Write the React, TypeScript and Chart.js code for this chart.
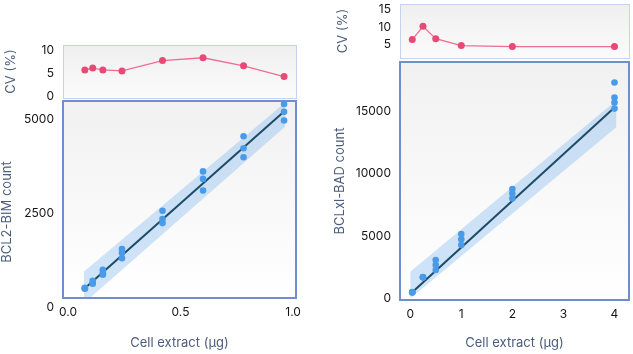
import React, { useEffect, useRef } from 'react';
import { Chart, registerables } from 'chart.js';
Chart.register(...registerables);

// ---------- data: left (BCL2-BIM) ----------
const leftX = [0.075, 0.11, 0.155, 0.24, 0.42, 0.6, 0.78, 0.96];
const leftCV = [5.74, 6.15, 5.74, 5.54, 7.77, 8.38, 6.63, 4.32];
const leftCounts = [
  [500, 490, 510],
  [700, 640, 620],
  [990, 900, 860],
  [1550, 1440, 1300],
  [2570, 2350, 2240],
  [3620, 3420, 3110],
  [4560, 4240, 4000],
  [5420, 5210, 4980],
];
const leftFitX = [0.075, 0.96];
const leftFitY = [500, 5222];
const leftBandX = [0.071, 0.964];
const leftBandUpper = [944, 5454];
const leftBandLower = [100, 4813];
const leftXTicks = [0, 0.5, 1];
const leftYTicks = [0, 2500, 5000];
const leftCVTicks = [0, 5, 10];

// ---------- data: right (BCLxl-BAD) ----------
const rightX = [0.04, 0.25, 0.5, 1, 2, 4];
const rightCV = [6.36, 10.2, 6.6, 4.6, 4.33, 4.33];
const rightCounts = [
  [480, 470, 490],
  [1680, 1700, 1660],
  [3070, 2670, 2270],
  [5150, 4730, 4270],
  [8760, 8410, 8010],
  [17310, 16110, 15710, 15220],
];
const rightFitX = [0.04, 4];
const rightFitY = [480, 15302];
const rightBandX = [0, 4.04];
const rightBandUpper = [2130, 15890];
const rightBandLower = [-11, 13750];
const rightXTicks = [0, 1, 2, 3, 4];
const rightYTicks = [0, 5000, 10000, 15000];
const rightCVTicks = [5, 10, 15];

const xTitle = 'Cell extract (µg)';
const cvTitle = 'CV (%)';
const leftYTitle = 'BCL2-BIM count';
const rightYTitle = 'BCLxl-BAD count';

const FONT = 'Inter, "Open Sans", sans-serif';
const TITLE_COLOR = '#4d5d7c';
const TICK_COLOR = '#151515';

const panelPlugin = {
  id: 'panel',
  beforeDraw(chart: any, _a: any, opts: any) {
    const { ctx, chartArea: a } = chart;
    const g = ctx.createLinearGradient(0, a.top, 0, a.bottom);
    g.addColorStop(0, opts.top);
    g.addColorStop(1, opts.bottom);
    ctx.save();
    ctx.fillStyle = g;
    ctx.fillRect(a.left, a.top, a.right - a.left, a.bottom - a.top);
    ctx.restore();
  },
  afterDraw(chart: any, _a: any, opts: any) {
    const { ctx, chartArea: a } = chart;
    ctx.save();
    ctx.strokeStyle = opts.border;
    ctx.lineWidth = opts.width;
    const o = opts.width % 2 === 1 ? 0.5 : 0;
    ctx.strokeRect(a.left + o, a.top + o, a.right - a.left, a.bottom - a.top);
    if (opts.yTitle) {
      ctx.translate(opts.yTitle.x, opts.yTitle.y);
      ctx.rotate(-Math.PI / 2);
      ctx.fillStyle = TITLE_COLOR;
      ctx.font = `13px ${FONT}`;
      ctx.textAlign = 'center';
      ctx.textBaseline = 'middle';
      ctx.fillText(opts.yTitle.text, 0, 0);
    }
    ctx.restore();
  },
};

type AxisCfg = {
  xMin: number; xMax: number; xTicks: number[]; xFmt: (v: number) => string; showX: boolean; xHeight: number;
  yMin: number; yMax: number; yTicks: number[]; yWidth: number; yTitle?: string; yTitlePad: number;
  padding: any; panel: any;
};

function makeOptions(c: AxisCfg): any {
  return {
    responsive: false,
    animation: false,
    layout: { padding: c.padding },
    plugins: { legend: { display: false }, tooltip: { enabled: false }, panel: c.panel },
    scales: {
      x: {
        type: 'linear',
        display: c.showX,
        min: c.xMin,
        max: c.xMax,
        grid: { display: false, drawTicks: false },
        border: { display: false },
        afterBuildTicks: (s: any) => { s.ticks = c.xTicks.map((v) => ({ value: v })); },
        afterFit: (s: any) => { s.height = c.xHeight; s.paddingLeft = 0; s.paddingRight = 0; },
        ticks: { padding: 7, color: TICK_COLOR, font: { family: FONT, size: 12 }, callback: (v: any) => c.xFmt(Number(v)), maxRotation: 0 },
        title: { display: true, text: xTitle, color: TITLE_COLOR, font: { family: FONT, size: 13 }, padding: { top: 4, bottom: 3 } },
      },
      y: {
        type: 'linear',
        min: c.yMin,
        max: c.yMax,
        grid: { display: false, drawTicks: false },
        border: { display: false },
        afterBuildTicks: (s: any) => { s.ticks = c.yTicks.map((v) => ({ value: v })); },
        afterFit: (s: any) => { s.width = c.yWidth; s.paddingTop = 0; s.paddingBottom = 0; },
        ticks: { padding: 9, color: TICK_COLOR, font: { family: FONT, size: 12 }, callback: (v: any) => String(v) },
        title: { display: !!c.yTitle, text: c.yTitle || '', color: TITLE_COLOR, font: { family: FONT, size: 13 }, padding: { top: c.yTitlePad, bottom: 0 } },
      },
    },
  };
}

function cvConfig(xs: number[], cv: number[], axis: AxisCfg): any {
  return {
    type: 'scatter',
    data: {
      datasets: [{
        data: xs.map((x, i) => ({ x, y: cv[i] })),
        showLine: true,
        borderColor: '#ef6d90',
        borderWidth: 1.3,
        backgroundColor: '#e84a77',
        pointRadius: 3.5,
        pointBorderWidth: 0,
      }],
    },
    options: makeOptions(axis),
    plugins: [panelPlugin],
  };
}

function mainConfig(xs: number[], counts: number[][], fitX: number[], fitY: number[], bandX: number[], up: number[], lo: number[], axis: AxisCfg, clipBand: boolean): any {
  return {
    type: 'scatter',
    data: {
      datasets: [
        {
          data: xs.flatMap((x, i) => counts[i].map((y) => ({ x, y }))),
          backgroundColor: '#4a9be7',
          pointRadius: 3.3,
          pointBorderWidth: 0,
          order: 0,
        },
        {
          data: fitX.map((x, i) => ({ x, y: fitY[i] })),
          showLine: true,
          borderColor: '#1d4b67',
          borderWidth: 2,
          pointRadius: 0,
          order: 1,
        },
        {
          data: bandX.map((x, i) => ({ x, y: up[i] })),
          showLine: true,
          borderWidth: 0,
          borderColor: 'rgba(0,0,0,0)',
          pointRadius: 0,
          fill: false,
          order: 2,
          clip: clipBand ? undefined : false,
        },
        {
          data: bandX.map((x, i) => ({ x, y: lo[i] })),
          showLine: true,
          borderWidth: 0,
          borderColor: 'rgba(0,0,0,0)',
          backgroundColor: 'rgba(110,175,240,0.32)',
          pointRadius: 0,
          fill: '-1',
          order: 2,
          clip: clipBand ? undefined : false,
        },
      ],
    },
    options: makeOptions(axis),
    plugins: [panelPlugin],
  };
}

function ChartBox(props: { left: number; top: number; width: number; height: number; make: () => any }) {
  const ref = useRef<HTMLCanvasElement>(null);
  useEffect(() => {
    const chart = new Chart(ref.current as HTMLCanvasElement, props.make());
    return () => chart.destroy();
  }, []);
  return (
    <canvas
      ref={ref}
      width={props.width}
      height={props.height}
      style={{ position: 'absolute', left: props.left, top: props.top, width: props.width, height: props.height, display: 'block' }}
    />
  );
}

const cvPanel = { top: '#efefef', bottom: '#fbfbfb', border: '#c4d3ee', width: 1 };
const mainPanel = { top: '#f1f1f1', bottom: '#ffffff', border: '#6e8ed0', width: 2 };

const leftFmt = (v: number) => v.toFixed(1);
const rightFmt = (v: number) => String(v);

export default function App() {
  return (
    <div style={{ position: 'fixed', left: 0, top: 0, width: 633, height: 354, background: '#ffffff', overflow: 'hidden' }}>
      <ChartBox left={0} top={40} width={310} height={62} make={() => cvConfig(leftX, leftCV, {
        xMin: -0.022, xMax: 1.013, xTicks: leftXTicks, xFmt: leftFmt, showX: false, xHeight: 0,
        yMin: -0.34, yMax: 11.15, yTicks: leftCVTicks, yWidth: 63, yTitle: cvTitle, yTitlePad: 3,
        padding: { top: 5, right: 14, bottom: 0, left: 0 }, panel: cvPanel,
      })} />
      <ChartBox left={0} top={95} width={310} height={259} make={() => mainConfig(leftX, leftCounts, leftFitX, leftFitY, leftBandX, leftBandUpper, leftBandLower, {
        xMin: -0.022, xMax: 1.013, xTicks: leftXTicks, xFmt: leftFmt, showX: true, xHeight: 56,
        yMin: 240, yMax: 5500, yTicks: leftYTicks, yWidth: 63, yTitlePad: 0,
        padding: { top: 6, right: 14, bottom: 0, left: 0 },
        panel: { ...mainPanel, yTitle: { text: leftYTitle, x: 7.5, y: 117 } },
      }, false)} />
      <ChartBox left={330} top={0} width={303} height={62} make={() => cvConfig(rightX, rightCV, {
        xMin: -0.2, xMax: 4.284, xTicks: rightXTicks, xFmt: rightFmt, showX: false, xHeight: 0,
        yMin: 1.0, yMax: 16.7, yTicks: rightCVTicks, yWidth: 70, yTitle: cvTitle, yTitlePad: 5,
        padding: { top: 0, right: 1, bottom: 0, left: 0 }, panel: cvPanel,
      })} />
      <ChartBox left={330} top={55} width={303} height={299} make={() => mainConfig(rightX, rightCounts, rightFitX, rightFitY, rightBandX, rightBandUpper, rightBandLower, {
        xMin: -0.2, xMax: 4.284, xTicks: rightXTicks, xFmt: rightFmt, showX: true, xHeight: 54,
        yMin: -140, yMax: 18960, yTicks: rightYTicks, yWidth: 70, yTitle: rightYTitle, yTitlePad: 2,
        padding: { top: 7, right: 1, bottom: 0, left: 0 }, panel: mainPanel,
      }, true)} />
    </div>
  );
}
